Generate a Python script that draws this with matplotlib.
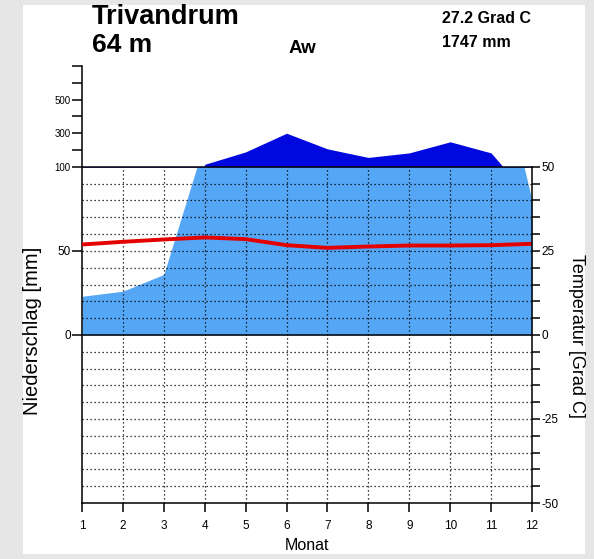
import matplotlib
matplotlib.use("Agg")
import matplotlib.pyplot as plt
from matplotlib.patches import Rectangle
import numpy as np

plt.rcParams["font.family"] = ["Liberation Sans", "DejaVu Sans"]

# ---------------- data ----------------
months = [1, 2, 3, 4, 5, 6, 7, 8, 9, 10, 11, 12]
month_labels = [str(m) for m in months]
precip_mm = [23, 26, 36, 115, 189, 300, 207, 156, 183, 249, 183, 80]
temp_c = [26.9, 27.7, 28.4, 29.0, 28.5, 26.7, 25.9, 26.3, 26.6, 26.6, 26.7, 27.1]

station = "Trivandrum"
elevation = "64 m"
climate_class = "Aw"
mean_temp_label = "27.2 Grad C"
annual_precip_label = "1747 mm"

precip_tick_values = [0, 50, 100, 200, 300, 400, 500, 600, 700]
precip_tick_labels = ["0", "50", "100", "", "300", "", "500", "", ""]
temp_tick_values = list(range(-50, 55, 5))
temp_tick_labels = [str(t) if t % 25 == 0 else "" for t in temp_tick_values]
grid_temps = [t for t in temp_tick_values if t not in (-50, 0, 50)]

# ---------------- style ----------------
LIGHT_BLUE = "#55a6f4"
DARK_BLUE = "#0008e0"
RED = "#e30000"
DOTS = (0, (1.0, 2.2))


def p_scale(p):
    p = np.asarray(p, dtype=float)
    return np.where(p <= 100, p / 2.0, 50 + (p - 100) / 20.0)


W, H = 594, 559
fig = plt.figure(figsize=(W / 100, H / 100), dpi=100)
fig.patch.set_facecolor("#e6e6e6")
fig.add_artist(Rectangle((23 / W, 1 - 554 / H), 562 / W, 549 / H,
                         transform=fig.transFigure, facecolor="white",
                         edgecolor="none", zorder=-10))


def fx(px):
    return px / W


def fy(py):
    return 1 - py / H


ax = fig.add_axes([fx(82), fy(503), 450 / W, 437 / H])
ax.set_facecolor("none")
ax.set_xlim(1, 12)
ax.set_ylim(-50, 80)

# precipitation below 100 mm (2 mm per degree)
light = ax.fill_between(months, 0, np.asarray(precip_mm) / 2.0,
                        color=LIGHT_BLUE, linewidth=0, zorder=1)
light.set_clip_path(Rectangle((1, 0), 11, 50, transform=ax.transData))

# precipitation above 100 mm (compressed scale)
dark = ax.fill_between(months, 50, p_scale(precip_mm),
                       color=DARK_BLUE, linewidth=0, zorder=1)
dark.set_clip_path(Rectangle((1, 50), 11, 40, transform=ax.transData))

# dotted grid
ax.vlines(months[1:-1], -50, 50, colors="black", linestyles=[DOTS],
          linewidth=0.9, zorder=2)
ax.hlines(grid_temps, 1, 12, colors="black", linestyles=[DOTS],
          linewidth=0.9, zorder=2)

# solid reference lines
ax.axhline(50, color="black", lw=1.1, zorder=3)
ax.axhline(0, color="black", lw=1.1, zorder=3)

# temperature
ax.plot(months, temp_c, color=RED, lw=2.8, zorder=4, solid_capstyle="butt")

# spines / ticks
for s in ("top", "right"):
    ax.spines[s].set_visible(False)
ax.spines["left"].set_bounds(-50, 80)
ax.spines["left"].set_linewidth(1.1)
ax.spines["bottom"].set_linewidth(1.1)

ax.set_xticks(months)
ax.set_xticklabels(month_labels)
ax.set_yticks(p_scale(precip_tick_values))
ax.set_yticklabels(precip_tick_labels)
ax.tick_params(axis="x", direction="out", length=6.5, width=1.1, pad=6,
               labelsize=8.5)
ax.tick_params(axis="y", direction="out", length=7, width=1.1, pad=1,
               labelsize=7)
for lbl in ax.get_yticklabels():
    if lbl.get_text() in ("0", "50"):
        lbl.set_fontsize(8.5)

ax2 = ax.twinx()
ax2.set_ylim(-50, 80)
for s in ("top", "left", "bottom"):
    ax2.spines[s].set_visible(False)
ax2.spines["right"].set_bounds(-50, 50)
ax2.spines["right"].set_linewidth(1.1)
ax2.set_yticks(temp_tick_values)
ax2.set_yticklabels(temp_tick_labels)
ax2.tick_params(axis="y", direction="out", length=6, width=1.1, pad=1,
                labelsize=8.5)

# texts
fig.text(fx(92), fy(24), station, fontsize=19.5, fontweight="bold",
         ha="left", va="baseline")
fig.text(fx(92), fy(52), elevation, fontsize=19, fontweight="bold",
         ha="left", va="baseline")
fig.text(fx(289), fy(53), climate_class, fontsize=13.5, fontweight="bold",
         ha="left", va="baseline")
fig.text(fx(442), fy(23), mean_temp_label, fontsize=11.5, fontweight="bold",
         ha="left", va="baseline")
fig.text(fx(442), fy(47), annual_precip_label, fontsize=11.5,
         fontweight="bold", ha="left", va="baseline")

fig.text(fx(33), fy(331), "Niederschlag [mm]", rotation=90, fontsize=14.5,
         ha="center", va="center")
fig.text(fx(576), fy(336), "Temperatur [Grad C]", rotation=-90, fontsize=13,
         ha="center", va="center")
fig.text(fx(307), fy(546), "Monat", fontsize=11.5, ha="center", va="center")

fig.savefig("out.png", dpi=100, facecolor=fig.get_facecolor())
